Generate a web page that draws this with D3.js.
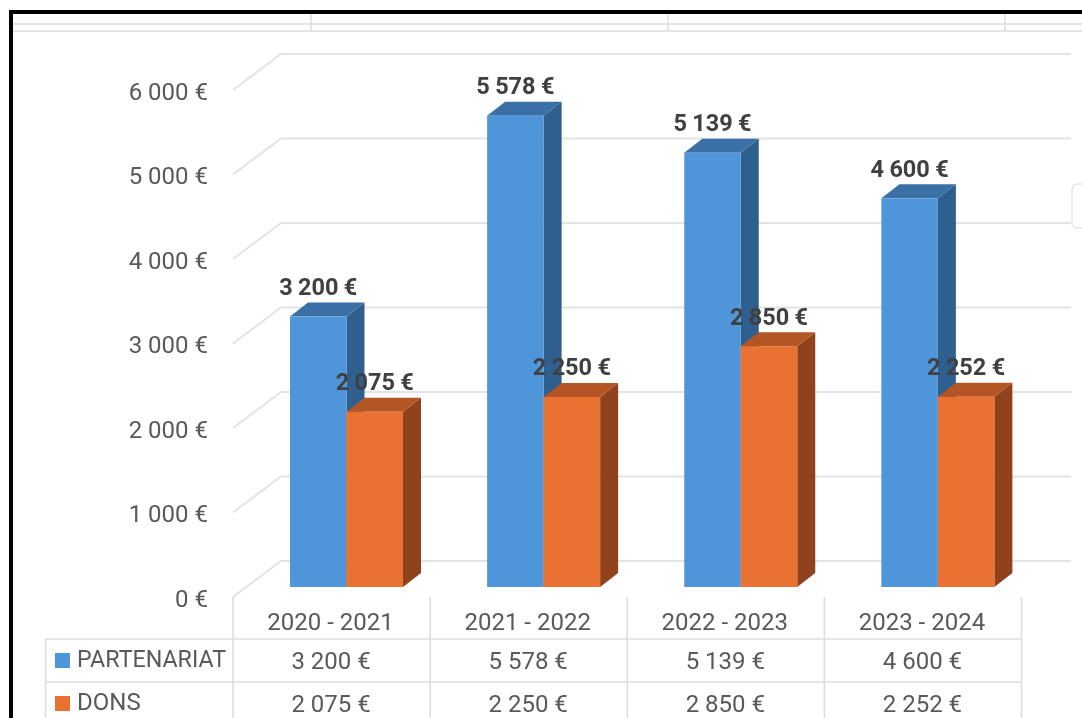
<!DOCTYPE html>
<html lang="fr">
<head>
<meta charset="UTF-8" />
<title>Partenariat et dons</title>
<script src="https://cdnjs.cloudflare.com/ajax/libs/d3/7.8.5/d3.min.js"></script>
<style type="text/css">
html, body { margin: 0; padding: 0; background: #fff; overflow: hidden; }
svg { display: block; filter: blur(0.5px); }
text { font-family: Roboto, sans-serif; fill: #595959; font-size: 24px; }
.barLabel { font-family: Roboto, sans-serif; font-weight: 700; font-size: 23.5px; fill: #404040; word-spacing: -0.5px; }
.grid { stroke: #e3e3e3; stroke-width: 2; fill: none; }
.cellLine { stroke: #dedede; stroke-width: 1.6; }
.frameLine { stroke: #dcdcdc; stroke-width: 1.5; }
</style>
</head>
<body>
<div id="chart"></div>
<script>
  var categories = ["2020 - 2021", "2021 - 2022", "2022 - 2023", "2023 - 2024"];
  var partenariat = [3200, 5578, 5139, 4600];
  var dons = [2075, 2250, 2850, 2252];
  var yTicks = [0, 1000, 2000, 3000, 4000, 5000, 6000];
  var seriesNames = ["PARTENARIAT", "DONS"];

  var width = 1082, height = 718;
  var wallDx = 48, wallDy = -36;   // depth of the 3d wall
  var barDx = 18, barDy = -14;     // depth of a bar
  var barOffset = 57, barWidth = 56.5;

  var svg = d3.select("#chart").append("svg")
    .attr("width", width)
    .attr("height", height);

  var euro = function(v) {
    return d3.format(",")(v).replace(",", " ") + " €";
  };

  var x = d3.scaleBand().domain(categories).range([233, 1021.5]);
  var y = d3.scaleLinear().domain([0, 6000]).range([597, 90]);
  var yBar = d3.scaleLinear().domain([0, 6000]).range([587, 80]);

  // sheet lines behind the chart, left over from the screenshot
  var frame = svg.append("g");
  frame.selectAll("line.h").data([24, 31]).enter().append("line")
    .attr("class", "frameLine")
    .attr("x1", 13).attr("x2", width)
    .attr("y1", function(d) { return d; }).attr("y2", function(d) { return d; });
  frame.selectAll("line.v").data([311, 668, 1005]).enter().append("line")
    .attr("class", "frameLine")
    .attr("x1", function(d) { return d; }).attr("x2", function(d) { return d; })
    .attr("y1", 14).attr("y2", 31);
  svg.append("path")
    .attr("d", "M11,718V12H1082")
    .attr("fill", "none").attr("stroke", "#000").attr("stroke-width", 4);
  svg.append("rect")
    .attr("x", 1072).attr("y", 184).attr("width", 30).attr("height", 44).attr("rx", 5)
    .attr("fill", "#fff").attr("stroke", "#e6e6e6").attr("stroke-width", 1.5);

  // wall grid
  svg.append("g").selectAll("path").data(yTicks).enter().append("path")
    .attr("class", "grid")
    .attr("d", function(d) {
      var p = d3.path();
      p.moveTo(233, y(d));
      p.lineTo(233 + wallDx, y(d) + wallDy);
      p.lineTo(1071, y(d) + wallDy);
      return p.toString();
    });

  // y axis labels
  var axis = svg.append("g")
    .attr("transform", "translate(208,0.5)")
    .call(d3.axisLeft(y).tickValues(yTicks).tickFormat(euro).tickSize(0).tickPadding(0));
  axis.select(".domain").remove();
  axis.selectAll("text").attr("dy", "0.36em").style("font-size", "24px").style("font-family", "Roboto");

  // one 3d bar: side, top, front
  function drawBars(values, offset, front, topc, side) {
    var g = svg.append("g");
    categories.forEach(function(c, i) {
      var x0 = x(c) + offset, x1 = x0 + barWidth;
      var y0 = yBar(values[i]), y1 = yBar(0);
      g.append("path").attr("fill", side)
        .attr("d", "M" + [x1, y0] + "L" + [x1 + barDx, y0 + barDy] + "L" + [x1 + barDx, y1 + barDy] + "L" + [x1, y1] + "Z");
      g.append("path").attr("fill", topc)
        .attr("d", "M" + [x0, y0] + "L" + [x0 + barDx, y0 + barDy] + "L" + [x1 + barDx, y0 + barDy] + "L" + [x1, y0] + "Z");
      g.append("rect").attr("fill", front)
        .attr("x", x0).attr("y", y0).attr("width", barWidth).attr("height", y1 - y0);
    });
  }
  drawBars(partenariat, barOffset, "#4e95d9", "#3a70a6", "#2f5f8e");
  drawBars(dons, barOffset + barWidth, "#e97132", "#b35524", "#8f421c");

  // data labels
  function drawLabels(values, offset) {
    svg.append("g").selectAll("text").data(values).enter().append("text")
      .attr("class", "barLabel")
      .attr("text-anchor", "middle")
      .attr("x", function(d, i) { return x(categories[i]) + offset + barWidth / 2; })
      .attr("y", function(d) { return yBar(d) + barDy - 7.5; })
      .text(euro);
  }
  drawLabels(partenariat, barOffset);
  drawLabels(dons, barOffset + barWidth);

  // data table under the chart
  var rowY = [639, 682];
  var table = svg.append("g");
  var colLines = categories.map(function(c) { return x(c); }).concat([x.range()[1]]);
  table.selectAll("line.col").data(colLines).enter().append("line")
    .attr("class", "cellLine")
    .attr("x1", function(d) { return d; }).attr("x2", function(d) { return d; })
    .attr("y1", 597).attr("y2", height);
  table.append("line").attr("class", "cellLine")
    .attr("x1", 45.5).attr("x2", 45.5).attr("y1", rowY[0]).attr("y2", height);
  table.selectAll("line.row").data(rowY).enter().append("line")
    .attr("class", "cellLine")
    .attr("x1", 45).attr("x2", x.range()[1])
    .attr("y1", function(d) { return d; }).attr("y2", function(d) { return d; });

  table.selectAll("text.cat").data(categories).enter().append("text")
    .attr("text-anchor", "middle")
    .attr("x", function(d) { return x(d) + x.bandwidth() / 2 - 1; })
    .attr("y", 630)
    .text(function(d) { return d; });

  [partenariat, dons].forEach(function(values, r) {
    table.append("g").selectAll("text").data(values).enter().append("text")
      .attr("text-anchor", "middle")
      .attr("x", function(d, i) { return x(categories[i]) + x.bandwidth() / 2 - 0.5; })
      .attr("y", rowY[r] + 29.5)
      .text(euro);
    table.append("rect")
      .attr("x", 55).attr("y", rowY[r] + 14).attr("width", 15).attr("height", 15)
      .attr("fill", r === 0 ? "#4e95d9" : "#e97132");
    var name = table.append("text")
      .attr("x", 77).attr("y", rowY[r] + 28)
      .text(seriesNames[r]);
    if (r === 0) name.attr("textLength", 149).attr("lengthAdjust", "spacingAndGlyphs");
  });
</script>
</body>
</html>
